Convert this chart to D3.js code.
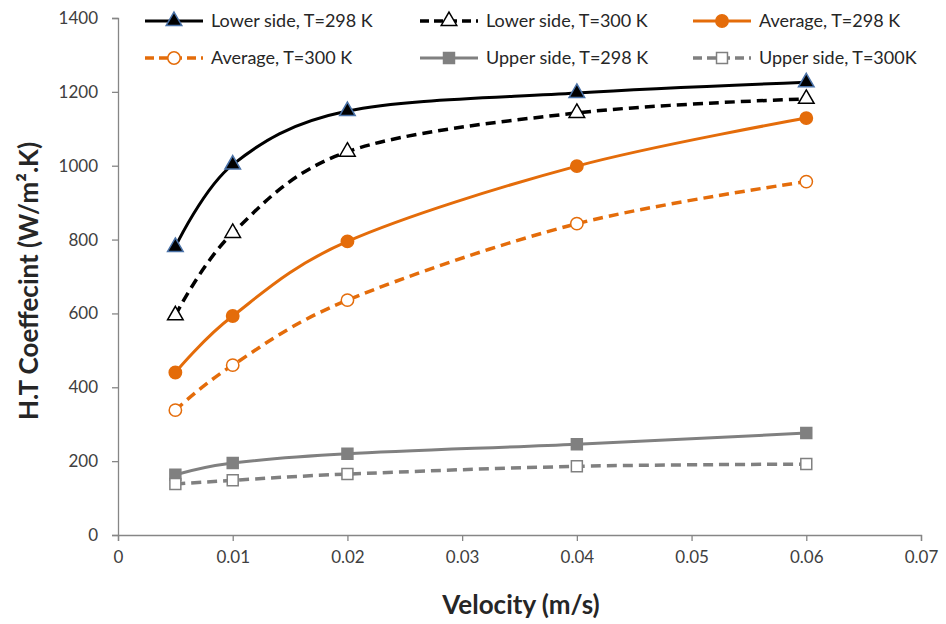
<!DOCTYPE html>
<html>
<head>
<meta charset="utf-8">
<script src="https://cdn.jsdelivr.net/npm/d3@7"></script>
<style>
  body { margin: 0; background: #fff; }
  text { font-family: Lato, "Open Sans", sans-serif; }
</style>
</head>
<body>
<svg id="chart" width="946" height="624"></svg>
<script>
// data
let velocity = [0.005, 0.01, 0.02, 0.04, 0.06];
let lower298 = [780, 1003, 1148, 1197, 1226];
let lower300 = [595, 818, 1038, 1143, 1181];
let avg298 = [440, 593, 795, 999, 1129];
let avg300 = [338, 460, 636, 843, 957];
let upper298 = [163, 195, 220, 246, 276];
let upper300 = [138, 148, 165, 186, 192];
let seriesNames = ["Lower side, T=298 K", "Lower side, T=300 K", "Average, T=298 K",
                   "Average, T=300 K", "Upper side, T=298 K", "Upper side, T=300K"];
let xTicks = [0, 0.01, 0.02, 0.03, 0.04, 0.05, 0.06, 0.07];
let yTicks = [0, 200, 400, 600, 800, 1000, 1200, 1400];

let width = 946, height = 624;
let margin = {top: 18, right: 25, bottom: 89, left: 118};
let INNER_WIDTH = width - margin.left - margin.right;
let INNER_HEIGHT = height - margin.top - margin.bottom;

let svg = d3.select("#chart");
let g = svg.append("g").attr("transform", `translate(${margin.left},${margin.top})`);

let x = d3.scaleLinear().domain([0, 0.07]).range([0, INNER_WIDTH]);
let y = d3.scaleLinear().domain([0, 1400]).range([INNER_HEIGHT, 0]);

let axisColor = "#868686";

let x_axis = g.append("g")
    .attr("transform", `translate(0,${INNER_HEIGHT})`)
    .call(d3.axisBottom(x).tickValues(xTicks).tickFormat(d => d === 0 ? "0" : d3.format(".2f")(d)).tickSizeOuter(0).tickSize(6).tickPadding(10));
let y_axis = g.append("g")
    .call(d3.axisLeft(y).tickValues(yTicks).tickFormat(d3.format("d")).tickSizeOuter(0).tickSize(6).tickPadding(14));

[x_axis, y_axis].forEach(a => {
    a.select(".domain").style("stroke", axisColor).style("stroke-width", 1.3);
    a.selectAll("line").style("stroke", axisColor).style("stroke-width", 1.3);
    a.selectAll("text").style("font-size", "17px").style("fill", "#404040")
        .style("font-family", "Lato, sans-serif");
});

// axis titles
svg.append("text")
    .attr("x", 521).attr("y", 614)
    .attr("text-anchor", "middle")
    .style("font-size", "26px").style("font-weight", "bold").style("fill", "#262626")
    .text("Velocity (m/s)");

svg.append("text")
    .attr("transform", `translate(38,${281}) rotate(-90)`)
    .attr("text-anchor", "middle")
    .style("font-size", "26px").style("font-weight", "bold").style("fill", "#262626")
    .text("H.T Coeffecint (W/m\u00B2.K)");

// series styles
let series = [
    {name: seriesNames[0], values: lower298, color: "#000000", dash: null, marker: "triangle", fill: "#000000", mstroke: "#4a72a8"},
    {name: seriesNames[1], values: lower300, color: "#000000", dash: "10,6", marker: "triangle", fill: "#ffffff", mstroke: "#000000"},
    {name: seriesNames[2], values: avg298, color: "#e46c0a", dash: null, marker: "circle", fill: "#e46c0a", mstroke: "#e46c0a"},
    {name: seriesNames[3], values: avg300, color: "#e46c0a", dash: "10,6", marker: "circle", fill: "#ffffff", mstroke: "#e46c0a"},
    {name: seriesNames[4], values: upper298, color: "#808080", dash: null, marker: "square", fill: "#808080", mstroke: "#808080"},
    {name: seriesNames[5], values: upper300, color: "#808080", dash: "10,6", marker: "square", fill: "#ffffff", mstroke: "#808080"}
];

let symbolOf = {
    triangle: d3.symbol().type(d3.symbolTriangle).size(105),
    circle: d3.symbol().type(d3.symbolCircle).size(120),
    square: d3.symbol().type(d3.symbolSquare).size(120)
};

let line = d3.line()
    .x((d, i) => x(velocity[i]))
    .y(d => y(d))
    .curve(d3.curveCatmullRom.alpha(0));

let graph = g.append("g").attr("class", "nodes");

function drawMarker(sel, s) {
    sel.append("path")
        .attr("d", symbolOf[s.marker]())
        .style("fill", s.fill)
        .style("stroke", s.mstroke)
        .style("stroke-width", 1.5);
}

series.forEach(s => {
    graph.append("path")
        .datum(s.values)
        .attr("d", line)
        .style("fill", "none")
        .style("stroke", s.color)
        .style("stroke-width", s.dash ? 3.5 : 3)
        .style("stroke-dasharray", s.dash);
    s.values.forEach((v, i) => {
        let m = graph.append("g").attr("transform", `translate(${x(velocity[i])},${y(v)})`);
        drawMarker(m, s);
    });
});

// legend
let legendCols = [145, 420, 693];
let legendRows = [21, 58];
series.forEach((s, i) => {
    let lx = legendCols[i % 3], ly = legendRows[Math.floor(i / 3)];
    let lg = svg.append("g").attr("transform", `translate(${lx},${ly})`);
    lg.append("line")
        .attr("x1", 0).attr("x2", 58).attr("y1", 0).attr("y2", 0)
        .style("stroke", s.color).style("stroke-width", s.dash ? 3.5 : 3)
        .style("stroke-dasharray", s.dash ? "9,5" : null);
    drawMarker(lg.append("g").attr("transform", "translate(29,0)"), s);
    lg.append("text")
        .attr("x", 66).attr("y", 0).attr("dy", "0.35em")
        .style("font-size", "18px").style("fill", "#262626")
        .text(s.name);
});
</script>
</body>
</html>
